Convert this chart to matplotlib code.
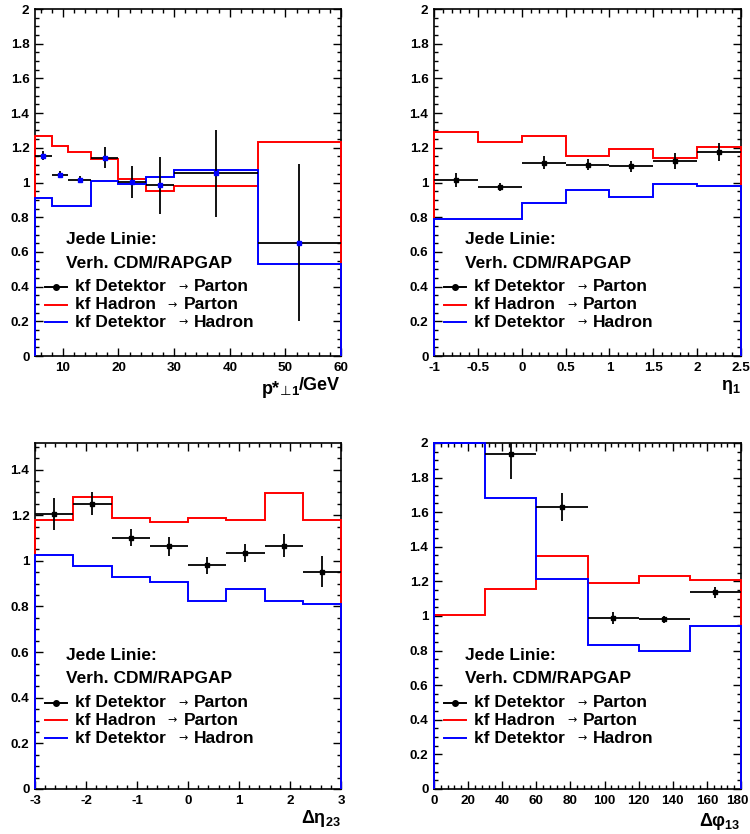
import matplotlib
matplotlib.use('Agg')
import matplotlib.pyplot as plt
from matplotlib.ticker import MultipleLocator, FormatStrFormatter
from matplotlib.transforms import ScaledTranslation
import numpy as np

plt.rcParams['font.family'] = ['Liberation Sans', 'DejaVu Sans']
plt.rcParams['font.weight'] = 'bold'
plt.rcParams['axes.unicode_minus'] = True
plt.rcParams['mathtext.fontset'] = 'custom'
plt.rcParams['mathtext.rm'] = 'Liberation Sans'
plt.rcParams['mathtext.bf'] = 'Liberation Sans:bold'
plt.rcParams['mathtext.it'] = 'Liberation Sans:italic'

# ---- p*_perp1 ----
pt_edges = [5, 8, 11, 15, 20, 25, 30, 45, 60]
pt_had_par = [1.270, 1.213, 1.178, 1.134, 1.018, 0.953, 0.982, 1.234]
pt_det_had = [0.909, 0.864, 0.862, 1.011, 0.989, 1.034, 1.074, 0.533]
pt_det_par = [1.153, 1.045, 1.016, 1.143, 1.005, 0.984, 1.053, 0.654]
pt_det_par_err = [0.026, 0.020, 0.020, 0.060, 0.092, 0.163, 0.250, 0.450]

# ---- eta_1 ----
eta_edges = [-1, -0.5, 0, 0.5, 1, 1.5, 2, 2.5]
eta_had_par = [1.290, 1.236, 1.270, 1.153, 1.195, 1.140, 1.203]
eta_det_had = [0.787, 0.790, 0.880, 0.957, 0.916, 0.989, 0.980]
eta_det_par = [1.014, 0.974, 1.115, 1.103, 1.093, 1.124, 1.176]
eta_det_par_err = [0.042, 0.024, 0.038, 0.032, 0.032, 0.045, 0.050]

# ---- delta eta_23 ----
deta_edges = [-3, -2.25, -1.5, -0.75, 0, 0.75, 1.5, 2.25, 3]
deta_had_par = [1.178, 1.280, 1.187, 1.171, 1.190, 1.181, 1.298, 1.180]
deta_det_had = [1.026, 0.977, 0.930, 0.907, 0.823, 0.876, 0.823, 0.809]
deta_det_par = [1.207, 1.251, 1.102, 1.063, 0.980, 1.034, 1.067, 0.953]
deta_det_par_err = [0.070, 0.050, 0.037, 0.040, 0.037, 0.038, 0.051, 0.069]

# ---- delta phi_13 ----
dphi_edges = [0, 30, 60, 90, 120, 150, 180]
dphi_had_par = [1.005, 1.155, 1.347, 1.191, 1.233, 1.209]
dphi_det_had = [2.0, 1.679, 1.213, 0.830, 0.797, 0.941]
dphi_pt_edges = [30, 60, 90, 120, 150, 180]
dphi_det_par = [1.938, 1.630, 0.988, 0.980, 1.136]
dphi_det_par_err = [0.145, 0.080, 0.033, 0.022, 0.030]

panels = [
    dict(edges=pt_edges, red=pt_had_par, blue=pt_det_had, pedges=pt_edges,
         pts=pt_det_par, perr=pt_det_par_err, ylim=2.0, xmaj=10, xmin=2,
         mcol='blue', label=None, lab_y=-0.085, leg_y=0.337,
         pos=[0.0467, 0.5731, 0.408, 0.4161]),
    dict(edges=eta_edges, red=eta_had_par, blue=eta_det_had, pedges=eta_edges,
         pts=eta_det_par, perr=eta_det_par_err, ylim=2.0, xmaj=0.5, xmin=0.1,
         mcol='black', label=r'$\mathrm{\eta}_{\mathbf{1}}$',
         lab_y=-0.09, leg_y=0.337,
         pos=[0.5787, 0.5731, 0.4093, 0.4161]),
    dict(edges=deta_edges, red=deta_had_par, blue=deta_det_had, pedges=deta_edges,
         pts=deta_det_par, perr=deta_det_par_err, ylim=1.517, xmaj=1, xmin=0.2,
         mcol='black', label=r'$\mathrm{\Delta\eta}_{\mathbf{23}}$',
         lab_y=-0.084, leg_y=0.387,
         pos=[0.0467, 0.054, 0.408, 0.4149]),
    dict(edges=dphi_edges, red=dphi_had_par, blue=dphi_det_had, pedges=dphi_pt_edges,
         pts=dphi_det_par, perr=dphi_det_par_err, ylim=2.0, xmaj=20, xmin=4,
         mcol='black', label=r'$\mathrm{\Delta\varphi}_{\mathbf{13}}$',
         lab_y=-0.095, leg_y=0.387,
         pos=[0.5787, 0.054, 0.4093, 0.4149]),
]

fig = plt.figure(figsize=(7.5, 8.34), dpi=100)
axes = []

for p in panels:
    ax = fig.add_axes(p['pos'])
    axes.append(ax)
    e = np.array(p['edges'])
    ax.stairs(p['red'], e, baseline=0, color='#ff0000', lw=1.4, zorder=3, clip_on=False)
    ax.stairs(p['blue'], e, baseline=0, color='#0000ff', lw=1.4, zorder=3, clip_on=False)
    pe = np.array(p['pedges'])
    xc = 0.5 * (pe[:-1] + pe[1:])
    xe = 0.5 * (pe[1:] - pe[:-1])
    ax.errorbar(xc, p['pts'], xerr=xe, yerr=p['perr'], fmt='s', ms=3,
                color='black', mfc=p['mcol'], mec=p['mcol'], elinewidth=1.3,
                capsize=0, zorder=4)

    ax.set_xlim(e[0], e[-1])
    ax.set_ylim(0, p['ylim'])
    ax.xaxis.set_major_locator(MultipleLocator(p['xmaj']))
    ax.xaxis.set_minor_locator(MultipleLocator(p['xmin']))
    ax.yaxis.set_major_locator(MultipleLocator(0.2))
    ax.yaxis.set_minor_locator(MultipleLocator(0.05))
    ax.yaxis.set_major_formatter(FormatStrFormatter('%g'))
    ax.xaxis.set_major_formatter(FormatStrFormatter('%g'))
    ax.tick_params(which='both', direction='in', top=True, right=True,
                   labelsize=9.7, width=1)
    ax.tick_params(which='major', length=6, pad=4)
    ax.tick_params(which='minor', length=3)
    for s in ax.spines.values():
        s.set_linewidth(1.2)

    if p['label'] is not None:
        ax.text(1.0, p['lab_y'], p['label'], transform=ax.transAxes, ha='right',
                va='center', fontsize=13)
    else:
        # p*_{perp 1}/GeV built from pieces (perp sign from DejaVu Sans)
        t_gev = ax.text(0.995, p['lab_y'], '/GeV', transform=ax.transAxes,
                        ha='right', va='center', fontsize=13)
        t_one = ax.annotate('1', xy=(0, 0), xycoords=t_gev, xytext=(0, -3),
                            textcoords='offset points', ha='right', va='bottom',
                            fontsize=9.5)
        t_perp = ax.annotate('⊥', xy=(0, 0), xycoords=t_one, ha='right',
                             va='bottom', fontsize=9.5, fontweight='normal',
                             family=['DejaVu Sans'])
        ax.annotate('p*', xy=(0, 1), xycoords=t_perp, xytext=(0, 3),
                    textcoords='offset points', ha='right', va='top', fontsize=13)

    # legend
    ly = p['leg_y']
    ax.text(0.101, ly, 'Jede Linie:', transform=ax.transAxes, va='center', fontsize=12.5)
    ax.text(0.101, ly - 0.069, 'Verh. CDM/RAPGAP', transform=ax.transAxes,
            va='center', fontsize=12.5)
    rows = [('kf Detektor', 'Parton', 'black', True, 0.468, 0.518),
            ('kf Hadron', 'Parton', '#ff0000', False, 0.434, 0.486),
            ('kf Detektor', 'Hadron', '#0000ff', False, 0.468, 0.518)]
    for i, (a, b, c, mk, xa, xb) in enumerate(rows):
        yy = ly - 0.138 - i * 0.051
        ax.plot([0.033, 0.105], [yy, yy], color=c, lw=1.4, transform=ax.transAxes,
                clip_on=False)
        if mk:
            ax.plot([0.069], [yy], 'o', color='black', ms=4, transform=ax.transAxes)
        ax.text(0.131, yy, a, transform=ax.transAxes, va='center', fontsize=12.5)
        ax.text(xa, yy, '→', transform=ax.transAxes, va='center', fontsize=8,
                fontweight='normal', family=['DejaVu Sans'])
        ax.text(xb, yy, b, transform=ax.transAxes, va='center', fontsize=12.5)

# the "180" tick label sits at the figure edge: nudge it left a little
fig.canvas.draw()
ax4 = axes[3]
for tick in ax4.xaxis.get_major_ticks():
    if abs(tick.get_loc() - dphi_edges[-1]) < 1e-6:
        lab = tick.label1
        lab.set_transform(lab.get_transform() +
                          ScaledTranslation(-4 / 100, 0, fig.dpi_scale_trans))

fig.savefig('out.png', dpi=100)
